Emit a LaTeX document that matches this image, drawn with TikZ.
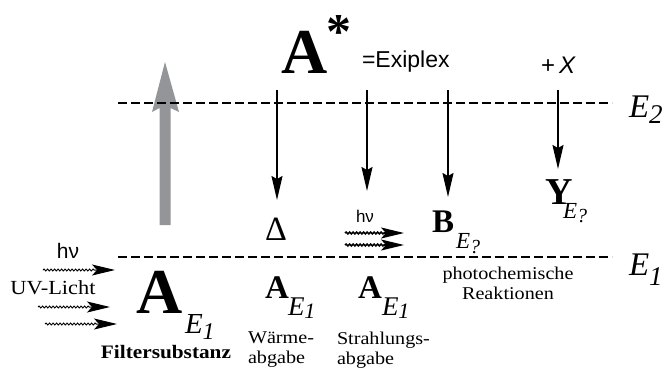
\documentclass[tikz,border=0pt]{standalone}
\usepackage{fontspec}
\setmainfont{Liberation Serif}
\setsansfont{Liberation Sans}
\newfontfamily\wideserif[FakeStretch=1.12]{Liberation Serif}
\usetikzlibrary{arrows.meta,decorations.pathmorphing}
\newcommand{\fs}[1]{\fontsize{#1}{#1}\selectfont}
\definecolor{arrowgray}{RGB}{147,149,152}
\begin{document}
\begin{tikzpicture}[x=1pt,y=-1pt,
  txt/.style={inner sep=0pt,outer sep=0pt},
  lvl/.style={line width=1.8pt,dash pattern=on 9pt off 4pt},
  down/.style={line width=1.6pt,-{Stealth[length=24pt,width=11pt,inset=3pt]}},
  wavethin/.style={decorate,decoration={snake,amplitude=0.9pt,segment length=3.5pt,post length=20pt},line width=1pt,-{Stealth[length=23pt,width=11pt,inset=5pt]}},
  wavethick/.style={wavethin,line width=1.6pt},
  smalltext/.style={txt,font=\wideserif\fontsize{18}{20}\selectfont},
]
\useasboundingbox (0,0) rectangle (662,373);

% grey excitation arrow
\fill[arrowgray] (159.5,225) -- (170.5,225) -- (170.5,108) -- (179,112) -- (165,62) -- (152,112) -- (159.5,108) -- cycle;

% energy levels
\coordinate (L2a) at (118,103); \coordinate (L2b) at (612,103);
\coordinate (L1a) at (118,257); \coordinate (L1b) at (612,257);
\draw[lvl] (L2a) -- (L2b);
\draw[lvl] (L1a) -- (L1b);
\node[txt,anchor=base west] (E2lab) at (629,117) {\fs{33}\itshape E\raisebox{-6pt}{\fs{27}2}};
\node[txt,anchor=base west] (E1lab) at (629,275) {\fs{33}\itshape E\raisebox{-10pt}{\fs{27}1}};

% A*
\node[txt,anchor=base west] (Astar) at (281,73) {\fs{64}\bfseries A};
\node[txt,anchor=base] (star) at (339,48) {\fs{50}\bfseries *};
\node[txt,anchor=base west] (exi) at (362,67) {\fs{23}\sffamily =Exiplex};
\node[txt,anchor=base west] (plusX) at (541,73) {\fs{24}\sffamily +\,\textit{X}};

% vertical arrows
\coordinate (t1) at (277,90); \coordinate (b1) at (277,200);
\coordinate (t2) at (367,90); \coordinate (b2) at (367,191);
\coordinate (t3) at (448,90); \coordinate (b3) at (448,197);
\coordinate (t4) at (558,90); \coordinate (b4) at (558,169);
\draw[down] (t1) -- (b1);
\draw[down] (t2) -- (b2);
\draw[down] (t3) -- (b3);
\draw[down] (t4) -- (b4);

% products
\node[txt] (delta) at (276,229) {\fs{34}Δ};
\node[txt,anchor=base] (hv2) at (365,222) {\fs{17}\sffamily hν};
\coordinate (w1a) at (345,233); \coordinate (w1b) at (404,233);
\coordinate (w2a) at (345,245); \coordinate (w2b) at (404,245);
\draw[wavethick] (w1a) -- (w1b);
\draw[wavethick] (w2a) -- (w2b);
\node[txt,anchor=base west] (B) at (432,232) {\fs{33}\bfseries B};
\node[txt,anchor=base west] (Bsub) at (456,248) {\fs{23}\itshape E\raisebox{-5pt}{\fs{20}?}};
\node[txt,anchor=base west] (Y) at (545,204) {\fs{38}\bfseries Y};
\node[txt,anchor=base west] (Ysub) at (563,218) {\fs{23}\itshape E\raisebox{-4pt}{\fs{20}?}};

% ground state
\node[txt,anchor=base west] (Abig) at (136,313) {\fs{64}\bfseries A};
\node[txt,anchor=base west] (Abigsub) at (185,333) {\fs{29}\itshape E\raisebox{-6pt}{\fs{24}1}};
\node[smalltext,font=\wideserif\fs{19}\bfseries] (filter) at (166,352) {Filtersubstanz};
\node[txt,anchor=base] (hv1) at (68,258) {\fs{21}\sffamily hν};
\node[smalltext,font=\wideserif\fs{20}] (uv) at (53,288) {UV-Licht};
\coordinate (u1a) at (43,270); \coordinate (u1b) at (115,270);
\coordinate (u2a) at (38,307); \coordinate (u2b) at (110,307);
\coordinate (u3a) at (45,324); \coordinate (u3b) at (117,324);
\draw[wavethin] (u1a) -- (u1b);
\draw[wavethin] (u2a) -- (u2b);
\draw[wavethin] (u3a) -- (u3b);

\node[txt,anchor=base west] (A1) at (265,298) {\fs{33}\bfseries A};
\node[txt,anchor=base west] (A1sub) at (288,315) {\fs{27}\itshape E\raisebox{-3pt}{\fs{22}1}};
\node[txt,anchor=base west] (A2) at (358,298) {\fs{33}\bfseries A};
\node[txt,anchor=base west] (A2sub) at (382,315) {\fs{27}\itshape E\raisebox{-3pt}{\fs{22}1}};

\node[smalltext,anchor=north west,align=left] (waerme) at (248,332) {Wärme-\\abgabe};
\node[smalltext,anchor=north west,align=left] (strahl) at (337,332) {Strahlungs-\\abgabe};
\node[smalltext,anchor=north,align=center] (photo) at (508,267) {photochemische\\Reaktionen};
\end{tikzpicture}
\end{document}
